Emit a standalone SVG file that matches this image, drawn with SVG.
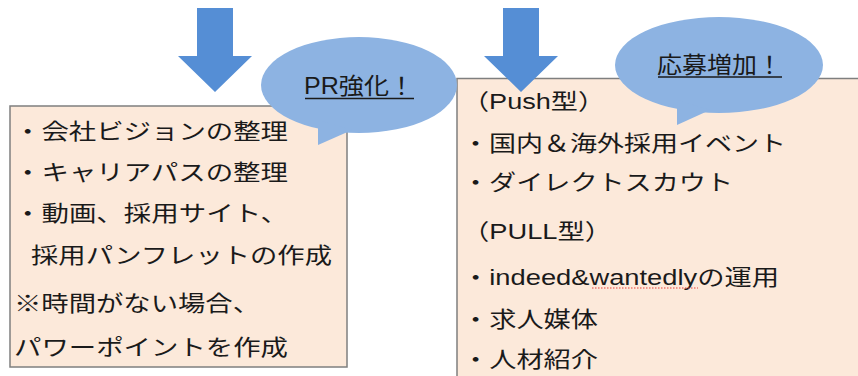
<svg xmlns="http://www.w3.org/2000/svg" width="858" height="376" viewBox="0 0 858 376">
<style>
.box{fill:#FCE9DA;stroke:#7F7F7F;stroke-width:1.5}
.arrow{fill:#558ED5}
.bubble{fill:#8DB3E2}
.t{font-family:"Liberation Sans","Noto Sans CJK JP",sans-serif;font-size:22px;fill:#1a1a1a}
.bt{font-family:"Liberation Sans","Noto Sans CJK JP",sans-serif;font-size:23px;fill:#1a1a1a}
.ul{stroke:#1a1a1a;stroke-width:1.4}
</style>
<rect width="858" height="376" fill="#ffffff"/>
<g id="box-left">
<rect class="box" x="10" y="106" width="337" height="261"/>
<text class="t" x="14" y="139" textLength="274" lengthAdjust="spacingAndGlyphs">・会社ビジョンの整理</text>
<text class="t" x="14" y="180" textLength="274" lengthAdjust="spacingAndGlyphs">・キャリアパスの整理</text>
<text class="t" x="14" y="221" textLength="274" lengthAdjust="spacingAndGlyphs">・動画、採用サイト、</text>
<text class="t" x="31" y="263" textLength="301" lengthAdjust="spacingAndGlyphs">採用パンフレットの作成</text>
<text class="t" x="14" y="311" textLength="246" lengthAdjust="spacingAndGlyphs">※時間がない場合、</text>
<text class="t" x="14" y="355" textLength="274" lengthAdjust="spacingAndGlyphs">パワーポイントを作成</text>
</g>
<g id="box-right">
<rect class="box" x="457" y="78.5" width="420" height="320"/>
<text class="t" x="462" y="109" textLength="143" lengthAdjust="spacingAndGlyphs">（Push型）</text>
<text class="t" x="462" y="151" textLength="324" lengthAdjust="spacingAndGlyphs">・国内＆海外採用イベント</text>
<text class="t" x="462" y="190" textLength="271" lengthAdjust="spacingAndGlyphs">・ダイレクトスカウト</text>
<text class="t" x="462" y="239" textLength="150" lengthAdjust="spacingAndGlyphs">（PULL型）</text>
<text class="t" x="462" y="285" textLength="317" lengthAdjust="spacingAndGlyphs">・indeed&amp;wantedlyの運用</text>
<line x1="592" y1="288" x2="698" y2="288" stroke="#E8403A" stroke-width="1.2" stroke-dasharray="1.5 1.5"/>
<text class="t" x="462" y="327" textLength="136" lengthAdjust="spacingAndGlyphs">・求人媒体</text>
<text class="t" x="462" y="367" textLength="136" lengthAdjust="spacingAndGlyphs">・人材紹介</text>
</g>
<g id="connectors">
<polygon class="arrow" points="197,8 233,8 233,56 252,56 215,92 178,56 197,56"/>
<polygon class="arrow" points="503,8 539,8 539,56 558,56 521,92 484,56 503,56"/>
</g>
<g id="bubble-pr">
<ellipse class="bubble" cx="359" cy="85" rx="98" ry="48"/>
<polygon class="bubble" points="318,120 318,145 352,130"/>
<text class="bt" x="304" y="94" textLength="110" lengthAdjust="spacingAndGlyphs">PR強化！</text>
<line class="ul" x1="305" y1="98.5" x2="414" y2="98.5"/>
</g>
<g id="bubble-apply">
<ellipse class="bubble" cx="719" cy="65" rx="104" ry="48"/>
<polygon class="bubble" points="677,100 677,125 710,110"/>
<text class="bt" x="657" y="73" textLength="125" lengthAdjust="spacingAndGlyphs">応募増加！</text>
<line class="ul" x1="658" y1="77" x2="782" y2="77"/>
</g>
</svg>
